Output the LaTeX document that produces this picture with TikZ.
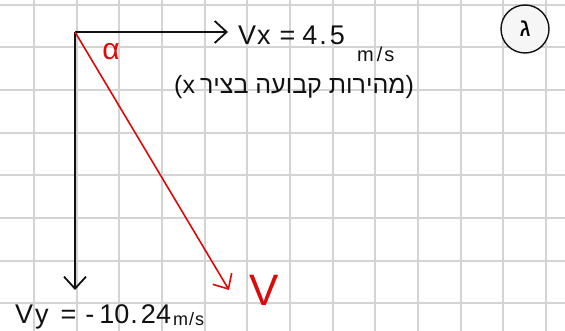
\documentclass[tikz,border=0pt]{standalone}
\usepackage{fontspec}
\setmainfont{Liberation Sans}
\newfontfamily\hebfont[Script=Hebrew]{Liberation Sans}
\TeXXeTstate=1
\usetikzlibrary{arrows.meta}
\definecolor{gridgray}{HTML}{D4D4D4}
\definecolor{penred}{HTML}{DD0A0A}
\definecolor{penblack}{HTML}{111111}
\tikzset{
  gridline/.style={draw=gridgray, line width=2pt},
  vecblack/.style={draw=penblack, line width=1.8pt, -{Straight Barb[length=12pt,width=22pt,line width=1.8pt]}},
  vecred/.style={draw=penred, line width=1.6pt, -{Straight Barb[length=12pt,width=22pt,line width=1.6pt]}},
  lbl/.style={inner sep=0pt, anchor=base west, text=penblack},
}
\begin{document}
\begin{tikzpicture}[x=1pt,y=-1pt]
\useasboundingbox (0,0) rectangle (565,331);
\fill[white] (0,0) rectangle (565,331);
% grid
\foreach \k in {0,...,12} {\draw[gridline] ({34+42.667*\k},0) -- ({34+42.667*\k},331);}
\foreach \k in {0,...,7} {\draw[gridline] (0,{4.7+42.667*\k}) -- (565,{4.7+42.667*\k});}
% vectors
\coordinate (O) at (75,32);
\coordinate (xend) at (228,32);
\coordinate (yend) at (75,290);
\coordinate (vend) at (229,290);
\draw[vecblack] (O) -- (xend);
\draw[vecblack] (O) -- (yend);
\draw[vecred] (O) -- (vend);
% labels
\node[lbl, font=\fontsize{27}{27}\selectfont] (vx) at (238,45) {V\kern1pt x\hspace{9pt}=\hspace{7pt}4\kern2pt.\kern3pt 5};
\node[lbl, font=\fontsize{20}{20}\selectfont] (vxu) at (357,62) {m\kern3pt/\kern2pt s};
\node[lbl, font=\fontsize{25}{25}\selectfont] (heb) at (174,94) {(x\hspace{5pt}{\hebfont\beginR מהירות קבועה בציר\endR})};
\node[lbl, font=\fontsize{27}{27}\selectfont] (vy) at (15,323) {V\kern2pt y\hspace{12pt}=\hspace{9pt}-\kern5pt 10\kern1pt.\kern3pt 24};
\node[lbl, font=\fontsize{18}{18}\selectfont] (vyu) at (173,325) {m\kern1pt/\kern1pt s};
\node[inner sep=0pt, text=penred, font=\fontsize{30}{30}\selectfont] (alpha) at (111,52) {α};
\node[lbl, text=penred, font=\fontsize{44}{44}\selectfont] (vlbl) at (249,305) {V};
\node[circle, draw=penblack, line width=1.4pt, fill=gray!7, minimum size=48pt, inner sep=0pt,
      font=\fontsize{26}{26}\selectfont\hebfont] (part) at (525,29) {ג};
\end{tikzpicture}
\end{document}
